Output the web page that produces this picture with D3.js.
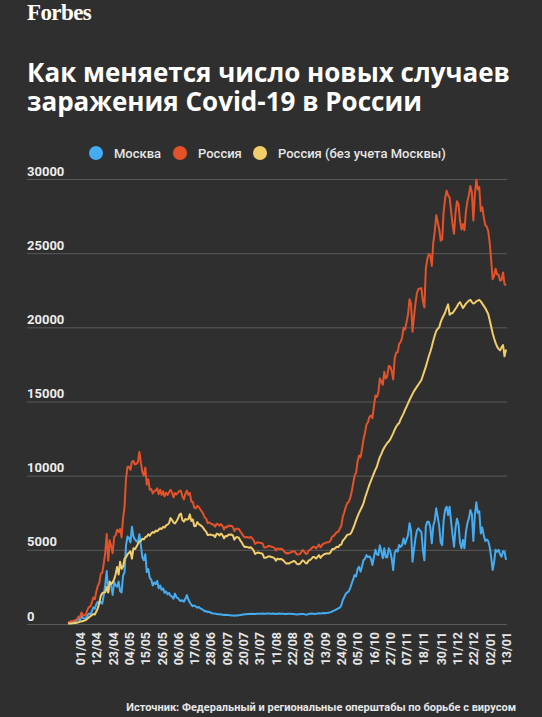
<!DOCTYPE html>
<html>
<head>
<meta charset="utf-8">
<style>
  html, body { margin: 0; padding: 0; background: #2f2f2f; }
  svg { display: block; }
</style>
</head>
<body>
<svg width="542" height="717"></svg>
<script src="https://d3js.org/d3.v7.min.js"></script>
<script>
// daily values, first point = startDate
var startDate = "2020-03-24";

var moscow = [
  40,120,140,150,160,200,210,390,
  270,600,400,350,390,590,700,660,860,1120,1030,1350,1490,1360,1490,1370,1950,2650,3570,2150,2780,2550,1960,2840,2610,2510,2870,2220,2120,3240,
  3500,5300,5900,5800,5500,6550,5900,5700,5600,5500,6050,5300,4500,4300,4700,3500,3700,3100,3000,2600,2800,2700,2900,2400,2600,2300,2400,2100,2200,2000,2100,
  1900,1850,1700,2050,1800,1750,1600,1550,1600,1500,1700,1950,1650,1450,1300,1200,1250,1180,1100,1150,1060,1000,950,850,880,800,830,760,730,700,
  700,680,650,660,640,620,600,620,600,610,590,580,570,560,580,570,590,600,620,640,650,660,670,680,690,680,690,680,690,690,690,
  690,700,690,690,700,700,690,690,700,690,680,690,700,690,690,690,670,680,690,690,690,680,670,650,640,650,660,670,680,670,630,
  640,670,690,700,690,680,690,700,720,710,720,740,730,740,750,780,800,850,900,940,1000,1050,1100,1250,1600,1800,2020,2120,2200,2420,
  2700,3000,3300,3200,3700,3860,3530,3900,4300,4400,4650,4500,4560,4400,3980,4500,5000,4700,4650,5300,4900,4430,5100,4500,4500,5100,4900,4400,3640,4800,5000,
  4870,5330,5200,5300,5770,5400,5700,5990,6790,6300,4200,5000,5770,6300,6450,6300,6200,5000,4290,6600,6900,6900,6500,5440,6600,7000,7800,7200,6600,5500,
  5320,7000,7700,7910,7350,7910,6900,6000,5210,6500,7100,6700,5500,5100,5660,5100,6200,6790,7120,7680,7400,5600,7300,8200,7500,7600,6100,6500,6000,5600,5700,
  5600,5210,4500,3640,4200,5000,4870,5000,4700,4540,4900,4870,4320
];

var russia = [
  70,160,180,200,230,270,300,500,
  440,770,600,580,660,950,1150,1180,1460,1790,1670,2190,2560,2770,3390,3450,4070,4790,6060,4270,5640,5240,4770,5850,5970,6360,6200,6410,5840,7100,
  7900,9800,10600,10600,10400,10950,11000,10750,10800,10900,11600,10900,10250,10000,10550,9400,9750,9050,9100,8800,8950,9000,9150,8750,9050,8700,8950,8600,8850,8700,8900,
  9040,8860,8540,8830,8730,8860,8980,8990,8600,8400,8780,8990,8710,8840,8250,8250,7840,7790,7970,7890,7730,7600,7430,7180,7110,6800,6850,6790,6720,6690,
  6560,6760,6720,6630,6740,6610,6370,6560,6510,6640,6610,6620,6540,6250,6420,6430,6410,6230,6110,5940,5840,5860,5850,5810,5870,5770,5640,5400,5480,5510,5480,
  5460,5430,5160,5160,5200,5270,5240,5210,5190,5120,4950,5100,5060,5070,5060,4970,4840,4750,4790,4770,4840,4870,4920,4850,4700,4680,4710,4830,4980,4900,4730,
  4730,4950,5000,5110,5210,5190,5100,5220,5360,5170,5310,5410,5450,5490,5510,5530,5670,5910,5940,6070,6200,6220,6430,6600,7210,7520,7870,8140,8230,8480,
  8900,9450,10000,10200,10950,11360,11230,11800,12450,12900,13450,13600,13960,14050,13880,14650,15400,15300,15600,16550,16350,16130,17000,16550,16700,17400,17350,17050,16490,17900,18300,
  18320,18880,19000,19300,19970,19850,20350,20860,21890,21600,19700,20700,21620,22300,22600,22600,22650,21750,21340,23950,24600,24950,24850,24140,25700,26450,27550,27100,26600,25850,
  25920,27800,28700,29210,28900,28760,27850,26950,26310,27750,28500,28300,27200,26600,26960,26550,27800,28490,28920,29530,29100,27200,28950,29950,29300,29450,27850,28100,27450,26900,26800,
  26500,25710,24550,23240,23450,23950,23570,23550,23150,23190,23700,22920,22820
];

var russiaNoMoscow = [
  30,40,40,50,70,70,90,110,
  170,170,200,230,270,360,450,520,600,670,640,840,1070,1410,1900,2080,2120,2140,2490,2120,2860,2690,2810,3010,3360,3850,3330,4190,3720,3860,
  4400,4500,4700,4800,4900,4400,5100,5050,5200,5400,5550,5600,5750,5700,5850,5900,6050,5950,6100,6200,6150,6300,6250,6350,6450,6400,6550,6500,6650,6700,6800,
  7140,7010,6840,6780,6930,7110,7380,7440,7000,6900,7080,7040,7060,7390,6950,7050,6590,6610,6870,6740,6670,6600,6480,6330,6230,6000,6020,6030,5990,5990,
  5860,6080,6070,5970,6100,5990,5770,5940,5910,6030,6020,6040,5970,5690,5840,5860,5820,5630,5490,5300,5190,5200,5180,5130,5180,5090,4950,4720,4790,4820,4790,
  4770,4730,4470,4470,4500,4570,4550,4520,4490,4430,4270,4410,4360,4380,4370,4280,4170,4070,4100,4080,4150,4190,4250,4200,4060,4030,4050,4160,4300,4230,4100,
  4090,4280,4310,4410,4520,4510,4410,4520,4640,4460,4590,4670,4720,4750,4760,4750,4870,5060,5040,5130,5200,5170,5330,5350,5610,5720,5850,6020,6030,6060,
  6200,6450,6700,7000,7250,7500,7700,7900,8150,8500,8800,9100,9400,9650,9900,10150,10400,10600,10950,11250,11450,11700,11900,12050,12200,12300,12450,12650,12850,13100,13300,
  13450,13550,13800,14000,14200,14450,14650,14870,15100,15300,15500,15700,15850,16000,16150,16300,16450,16750,17050,17350,17700,18050,18350,18700,19100,19450,19750,19900,20000,20350,
  20600,20800,21000,21300,21550,20850,20950,20950,21100,21250,21400,21600,21700,21500,21300,21450,21600,21700,21800,21850,21700,21600,21650,21750,21800,21850,21750,21600,21450,21300,21100,
  20900,20500,20050,19600,19250,18950,18700,18550,18450,18650,18800,18050,18500
];

var tickLabels = ["01/04","12/04","23/04","04/05","15/05","26/05","06/06","17/06","28/06","09/07",
  "20/07","31/07","11/08","22/08","02/09","13/09","24/09","05/10","16/10","27/10","07/11","18/11",
  "30/11","11/12","22/12","02/01","13/01"];

var yTicks = [0, 5000, 10000, 15000, 20000, 25000, 30000];

var seriesNames  = ["Москва", "Россия", "Россия (без учета Москвы)"];
var seriesColors = ["#45acf2", "#e4522a", "#f1cd6c"];

var svg = d3.select("svg");
var parse = d3.timeParse("%Y-%m-%d");
var day0 = parse(startDate);
var dates = moscow.map(function(d, i) { return d3.timeDay.offset(day0, i); });

function labelDate(s) {
  var p = s.split("/"), m = +p[1];
  return new Date(m >= 3 ? 2020 : 2021, m - 1, +p[0]);
}

var x = d3.scaleTime()
    .domain([labelDate("01/04"), labelDate("13/01")])
    .range([80, 506]);
var y = d3.scaleLinear().domain([0, 30000]).range([624, 179]);

// header
svg.append("text")
    .attr("x", 27).attr("y", 20)
    .attr("fill", "#fff")
    .style("font", "bold 23px 'Liberation Serif', serif")
    .style("letter-spacing", "-0.6px")
    .text("Forbes");

svg.append("text")
    .attr("x", 27).attr("y", 82)
    .attr("fill", "#fff")
    .style("font", "bold 26px 'Open Sans', sans-serif")
    .text("Как меняется число новых случаев");
svg.append("text")
    .attr("x", 27).attr("y", 111)
    .attr("fill", "#fff")
    .style("font", "bold 26px 'Open Sans', sans-serif")
    .text("заражения Covid-19 в России");

// legend
var legendX = [96, 180, 260];
var legend = svg.append("g").selectAll("g")
    .data(seriesNames)
    .enter().append("g")
    .attr("transform", function(d, i) { return "translate(" + legendX[i] + ",153)"; });
legend.append("circle").attr("r", 7).attr("fill", function(d, i) { return seriesColors[i]; });
legend.append("text")
    .attr("x", 18).attr("dy", "0.35em")
    .attr("fill", "#e6e6e6")
    .style("font", "500 13px Roboto, sans-serif")
    .text(function(d) { return d; });

// grid + y labels
var yAxis = svg.append("g")
    .attr("transform", "translate(27,0)")
    .call(d3.axisRight(y).tickValues(yTicks).tickSize(480).tickFormat(d3.format("d")));
yAxis.select(".domain").remove();
yAxis.selectAll("line").attr("stroke", "#5a5a5a");
yAxis.selectAll("text")
    .attr("x", 0).attr("dy", null).attr("y", -4)
    .attr("fill", "#ececec")
    .style("font", "bold 13px Roboto, sans-serif");

// x labels
var xAxis = svg.append("g")
    .attr("transform", "translate(0,624)")
    .call(d3.axisBottom(x).tickValues(tickLabels.map(labelDate)).tickSize(0)
      .tickFormat(function(d, i) { return tickLabels[i]; }));
xAxis.select(".domain").remove();
xAxis.selectAll("text")
    .attr("transform", "rotate(-90)")
    .attr("x", -8).attr("y", 0).attr("dy", "0.35em")
    .style("text-anchor", "end")
    .attr("fill", "#e6e6e6")
    .style("font", "bold 12.5px Roboto, sans-serif");

// lines
var line = d3.line()
    .x(function(d, i) { return x(dates[i]); })
    .y(function(d) { return y(d); });

svg.append("g")
    .attr("fill", "none")
    .attr("stroke-width", 2)
    .attr("stroke-linejoin", "round")
    .selectAll("path")
    .data([moscow, russia, russiaNoMoscow])
    .enter().append("path")
    .attr("stroke", function(d, i) { return seriesColors[i]; })
    .attr("d", line);

// source
svg.append("text")
    .attr("x", 516).attr("y", 711)
    .attr("text-anchor", "end")
    .attr("fill", "#e6e6e6")
    .style("font", "bold 11px Roboto, sans-serif")
    .text("Источник: Федеральный и региональные оперштабы по борьбе с вирусом");
</script>
</body>
</html>
